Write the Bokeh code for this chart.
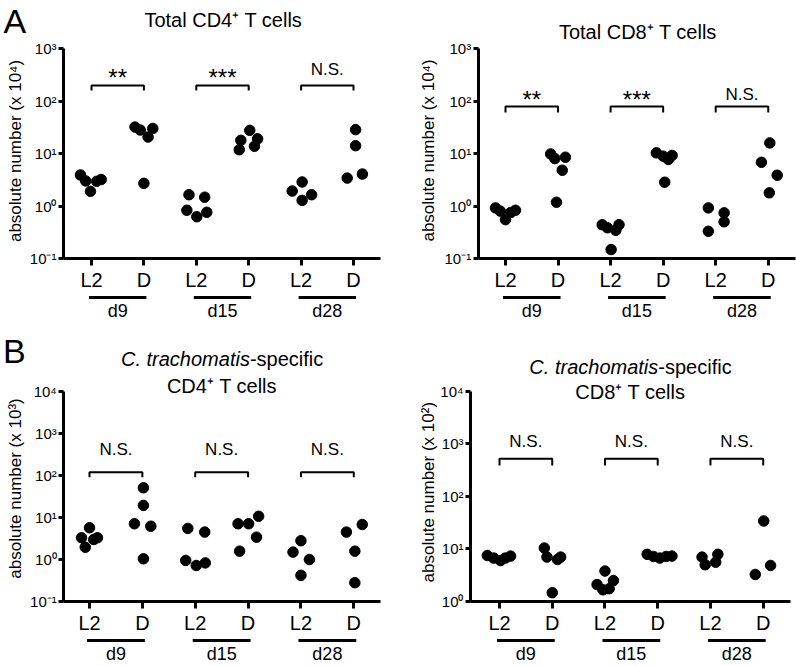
import math
from bokeh.plotting import figure
from bokeh.models import Range1d, FixedTicker, Label
from bokeh.layouts import column, row
from bokeh.embed import file_html
from bokeh.resources import INLINE

FONT = "Liberation Sans"

# ---------------- data ----------------
positions = [1, 2, 3, 4, 5, 6]
category_labels = ["L2", "D", "L2", "D", "L2", "D"]
day_labels = ["d9", "d15", "d28"]

# A left: Total CD4+ T cells (x 10^4)
total_cd4_values = [
    [3.9, 3.0, 1.9, 2.96, 3.2],
    [31.9, 28.0, 20.6, 30.0, 2.7],
    [1.64, 1.47, 0.83, 0.625, 0.76],
    [17.8, 27.6, 19.0, 11.8, 13.7],
    [1.93, 2.87, 1.64, 1.28],
    [28.5, 14.1, 3.4, 4.06],
]
total_cd4_jitter = [
    [-0.21, -0.11, -0.02, 0.10, 0.185],
    [-0.17, -0.07, 0.08, 0.17, 0.0],
    [-0.14, 0.16, -0.18, 0.01, 0.2],
    [-0.15, 0.02, 0.17, -0.18, 0.11],
    [-0.17, 0.02, 0.2, 0.02],
    [0.04, 0.04, -0.12, 0.17],
]
total_cd4_sig = ["**", "***", "N.S."]

# A right: Total CD8+ T cells (x 10^4)
total_cd8_values = [
    [0.92, 0.8, 0.55, 0.75, 0.83],
    [9.8, 8.0, 8.5, 4.8, 1.18],
    [0.44, 0.385, 0.345, 0.44, 0.148],
    [10.3, 8.9, 7.7, 9.2, 2.84],
    [0.92, 0.74, 0.50, 0.33],
    [15.9, 6.8, 3.86, 1.78],
]
total_cd8_jitter = [
    [-0.19, -0.1, 0.0, 0.1, 0.19],
    [-0.14, -0.06, 0.14, 0.08, -0.03],
    [-0.16, -0.06, 0.1, 0.16, 0.01],
    [-0.13, 0.0, 0.1, 0.17, 0.03],
    [-0.14, 0.16, 0.16, -0.14],
    [0.03, -0.13, 0.17, 0.02],
]
total_cd8_sig = ["**", "***", "N.S."]

# B left: C. trachomatis-specific CD4+ T cells (x 10^3)
ct_cd4_values = [
    [3.3, 5.7, 3.3, 1.96, 3.0],
    [51.0, 19.4, 7.1, 6.2, 1.04],
    [5.5, 4.5, 0.95, 0.72, 0.83],
    [7.1, 7.1, 10.7, 1.58, 3.4],
    [1.5, 2.8, 1.0, 0.42],
    [4.5, 6.8, 1.58, 0.28],
]
ct_cd4_jitter = [
    [-0.15, 0.0, 0.15, -0.08, 0.08],
    [0.02, 0.02, -0.15, 0.16, 0.02],
    [-0.14, 0.18, -0.18, 0.02, 0.19],
    [-0.19, 0.01, 0.2, -0.16, 0.16],
    [-0.15, 0.0, 0.16, 0.0],
    [-0.14, 0.16, 0.02, 0.02],
]
ct_cd4_sig = ["N.S.", "N.S.", "N.S."]

# B right: C. trachomatis-specific CD8+ T cells (x 10^2)
ct_cd8_values = [
    [7.5, 6.7, 6.0, 6.7, 7.3],
    [10.4, 7.0, 6.3, 7.0, 1.47],
    [2.1, 3.8, 1.67, 2.5, 1.75],
    [7.9, 7.2, 6.7, 7.2, 7.3],
    [7.0, 5.0, 5.6, 7.9],
    [34.0, 3.27, 4.85],
]
ct_cd8_jitter = [
    [-0.23, -0.11, 0.02, 0.11, 0.21],
    [-0.15, -0.1, 0.1, 0.16, 0.0],
    [-0.15, 0.0, -0.04, 0.16, 0.08],
    [-0.2, -0.08, 0.04, 0.16, 0.27],
    [-0.16, -0.1, 0.1, 0.14],
    [0.01, -0.15, 0.14],
]
ct_cd8_sig = ["N.S.", "N.S.", "N.S."]

ticks_a = [0.1, 1, 10, 100, 1000]
tick_labels_a = ["10\u207b\u00b9", "10\u2070", "10\u00b9", "10\u00b2", "10\u00b3"]
ticks_b1 = [0.1, 1, 10, 100, 1000, 10000]
tick_labels_b1 = ["10\u207b\u00b9", "10\u2070", "10\u00b9", "10\u00b2", "10\u00b3", "10\u2074"]
ticks_b2 = [1, 10, 100, 1000, 10000]
tick_labels_b2 = ["10\u2070", "10\u00b9", "10\u00b2", "10\u00b3", "10\u2074"]

# approximate Arial advance widths (em) for centring the mixed-style title
ARIAL_W = {"C": .722, ".": .278, " ": .278, "t": .278, "r": .333, "a": .556, "c": .5,
           "h": .556, "o": .556, "m": .833, "i": .222, "s": .5, "-": .333, "p": .556,
           "e": .556, "f": .278}
BASELINE_FIX = 0.38   # measured offset of label text below its anchor (in em)


def text_w(s, size):
    return sum(ARIAL_W.get(ch, .556) for ch in s) * size


def make_panel(values, jitter, sig, ticks, tick_labels, ylabel, lay):
    left, top, w, h = lay["rect"]
    cat1, sp = lay["cat1"], lay["spacing"]
    ax_x, ax_end = lay["yaxis_x"], lay["xaxis_end"]
    ty_top, ty_bot = lay["tick_top_y"], lay["tick_bot_y"]
    lv_top, lv_bot = math.log10(ticks[-1]), math.log10(ticks[0])
    dpp = (lv_top - lv_bot) / (ty_bot - ty_top)

    def X(px):
        return 1 + (px - cat1) / sp

    def Y(py):
        return 10 ** (lv_top + (ty_top - py) * dpp)

    def text(xd, base_py, txt, fs, align="center", style="normal"):
        p.add_layout(Label(x=xd, y=Y(base_py - BASELINE_FIX * fs), text=txt,
                           text_align=align, text_baseline="alphabetic",
                           text_font=FONT, text_font_style=style,
                           text_font_size=f"{fs}px", text_color="black"))

    p = figure(width=w, height=h, title=None,
               x_range=Range1d(X(left), X(left + w)),
               y_range=Range1d(Y(top + h), Y(top)),
               y_axis_type="log", output_backend="svg", toolbar_location=None,
               min_border_left=0, min_border_right=0, min_border_top=0,
               min_border_bottom=0)
    p.outline_line_color = None
    p.xgrid.visible = False
    p.ygrid.visible = False

    # axes, drawn at fixed positions inside the canvas
    for ax in (p.xaxis[0], p.yaxis[0]):
        ax.axis_line_width = 3
        ax.axis_line_color = "black"
        ax.major_tick_line_width = 3
        ax.major_tick_line_color = "black"
        ax.major_tick_in = 0
        ax.minor_tick_line_color = None
        ax.major_label_text_font = FONT
        ax.major_label_text_color = "black"
    xa = p.xaxis[0]
    xa.ticker = FixedTicker(ticks=positions)
    xa.major_label_overrides = {pos: lab for pos, lab in zip(positions, category_labels)}
    xa.major_tick_out = 7
    xa.major_label_standoff = 3
    xa.major_label_text_font_size = "20px"
    xa.fixed_location = ticks[0]
    xa.bounds = (X(ax_x), X(ax_end))
    ya = p.yaxis[0]
    ya.ticker = FixedTicker(ticks=ticks)
    ya.major_label_overrides = {t: lab for t, lab in zip(ticks, tick_labels)}
    ya.major_tick_out = 5
    ya.major_label_standoff = 2
    ya.major_label_text_font_size = "15px"
    ya.fixed_location = X(ax_x)
    ya.bounds = (ticks[0], ticks[-1])

    # y axis title (rotated)
    lx, ly = lay["ylabel_xy"]
    p.add_layout(Label(x=X(lx), y=Y(ly), text=ylabel, angle=math.pi / 2,
                       text_align="center", text_baseline="middle", text_font=FONT,
                       text_font_size="17px", text_color="black"))

    # points
    xs, ys = [], []
    for pos, vals, offs in zip(positions, values, jitter):
        for v, o in zip(vals, offs):
            xs.append(pos + o)
            ys.append(v)
    p.scatter(xs, ys, size=10.5, color="black")

    # significance brackets, group underlines and day labels
    br_y, leg_y = lay["bracket_y"], lay["leg_y"]
    for i, s in enumerate(sig):
        a, b = positions[2 * i], positions[2 * i + 1]
        p.line([a, a, b, b], [Y(leg_y), Y(br_y), Y(br_y), Y(leg_y)],
               line_width=2, color="black")
        if s.startswith("*"):
            text((a + b) / 2, lay["star_y"], s, 24)
        else:
            text((a + b) / 2, lay["ns_y"], s, 17)
        p.segment(x0=[a - 2.5 / sp], x1=[b + 2.5 / sp],
                  y0=[Y(ty_bot + 39)], y1=[Y(ty_bot + 39)],
                  line_width=3, color="black", line_cap="butt")
        text((a + b) / 2, ty_bot + 59.5, day_labels[i], 18)

    # title(s)
    tsize = 20
    for kind, txt, by in lay["title"]:
        if kind == "plain":
            text(X(lay["title_cx"]), by, txt, tsize)
        else:
            ital, rest = txt
            total = text_w(ital, tsize) + text_w(rest, tsize)
            xj = X(lay["title_cx"] - total / 2 + text_w(ital, tsize))
            text(xj, by, ital, tsize, align="right", style="italic")
            text(xj, by, rest, tsize, align="left")
    if lay.get("letter"):
        txt, lx2, by2 = lay["letter"]
        text(X(lx2), by2, txt, 34, align="left")
    return p


lay1 = dict(rect=(0, 0, 400, 332), cat1=91.0, spacing=52.4, yaxis_x=63, xaxis_end=380,
            tick_top_y=48, tick_bot_y=258, ylabel_xy=(15, 150.5),
            bracket_y=85, leg_y=90, star_y=86.3, ns_y=75,
            title_cx=223, title=[("plain", "Total CD4\u207a T cells", 27)],
            letter=("A", 3, 33))
lay2 = dict(rect=(400, 0, 396, 332), cat1=505.0, spacing=52.55, yaxis_x=477.7,
            xaxis_end=795, tick_top_y=48, tick_bot_y=258, ylabel_xy=(428.3, 150),
            bracket_y=106, leg_y=112, star_y=108.6, ns_y=100,
            title_cx=637.5, title=[("plain", "Total CD8\u207a T cells", 39.3)])
lay3 = dict(rect=(0, 332, 400, 332), cat1=89.0, spacing=52.86, yaxis_x=63.3,
            xaxis_end=380, tick_top_y=391, tick_bot_y=601, ylabel_xy=(15, 488),
            bracket_y=471.7, leg_y=476.7, star_y=455, ns_y=455,
            title_cx=221.6,
            title=[("mixed", ("C. trachomatis", "-specific"), 366),
                   ("plain", "CD4\u207a T cells", 392.7)],
            letter=("B", 2.5, 363.3))
lay4 = dict(rect=(400, 332, 396, 332), cat1=499.0, spacing=52.74, yaxis_x=470,
            xaxis_end=790, tick_top_y=390.7, tick_bot_y=601, ylabel_xy=(428.3, 491.7),
            bracket_y=458.3, leg_y=465, star_y=447, ns_y=447,
            title_cx=630,
            title=[("mixed", ("C. trachomatis", "-specific"), 374.5),
                   ("plain", "CD8\u207a T cells", 399.5)])

p1 = make_panel(total_cd4_values, total_cd4_jitter, total_cd4_sig, ticks_a, tick_labels_a,
                "absolute number (x 10\u2074)", lay1)
p2 = make_panel(total_cd8_values, total_cd8_jitter, total_cd8_sig, ticks_a, tick_labels_a,
                "absolute number (x 10\u2074)", lay2)
p3 = make_panel(ct_cd4_values, ct_cd4_jitter, ct_cd4_sig, ticks_b1, tick_labels_b1,
                "absolute number (x 10\u00b3)", lay3)
p4 = make_panel(ct_cd8_values, ct_cd8_jitter, ct_cd8_sig, ticks_b2, tick_labels_b2,
                "absolute number (x 10\u00b2)", lay4)

layout = column(row(p1, p2), row(p3, p4))
open("out.html", "w").write(file_html(layout, INLINE))
